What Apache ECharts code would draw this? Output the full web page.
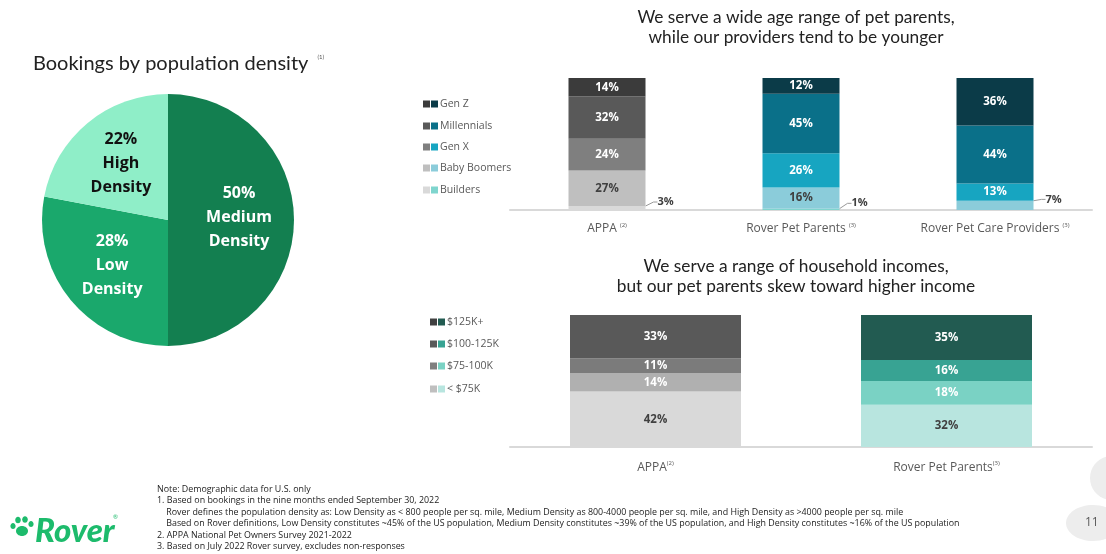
<!DOCTYPE html>
<html>
<head>
<meta charset="utf-8">
<script src="https://cdn.jsdelivr.net/npm/echarts@6/dist/echarts.min.js"></script>
<style>
html,body{margin:0;padding:0;background:#fff;}
#chart{width:1106px;height:554px;}
</style>
</head>
<body>
<div id="chart"></div>
<script>
// ---------- DATA ----------
const densityLabels = ['Medium\nDensity', 'Low\nDensity', 'High\nDensity'];
const densityValues = [50, 28, 22];

const ageCategories = ['APPA', 'Rover Pet Parents', 'Rover Pet Care Providers'];
const ageNotes = ['(2)', '(3)', '(3)'];
const ageGroups = ['Builders', 'Baby Boomers', 'Gen X', 'Millennials', 'Gen Z'];
const builders    = [3, 1, 0];
const babyBoomers = [27, 16, 7];
const genX        = [24, 26, 13];
const millennials = [32, 45, 44];
const genZ        = [14, 12, 36];

const incomeCategories = ['APPA', 'Rover Pet Parents'];
const incomeNotes = ['(2)', '(3)'];
const incomeGroups = ['< $75K', '$75-100K', '$100-125K', '$125K+'];
const under75K  = [42, 32];
const k75to100  = [14, 18];
const k100to125 = [11, 16];
const k125plus  = [33, 35];

const footnotes = [
  'Note: Demographic data for U.S. only',
  '1. Based on bookings in the nine months ended September 30, 2022',
  '    Rover defines the population density as: Low Density as < 800 people per sq. mile, Medium Density as 800-4000 people per sq. mile, and High Density as >4000 people per sq. mile',
  '    Based on Rover definitions, Low Density constitutes ~45% of the US population, Medium Density constitutes ~39% of the US population, and High Density constitutes ~16% of the US population',
  '2. APPA National Pet Owners Survey 2021-2022',
  '3. Based on July 2022 Rover survey, excludes non-responses'
];

// ---------- STYLE ----------
const densityColors = ['#137f50', '#1aa86c', '#8feec8'];
const densityText = ['#ffffff', '#ffffff', '#111111'];
const densityShift = [[5, -3], [-5, 3], [-5, -6]];

const ageGray = ['#d9d9d9', '#bfbfbf', '#7f7f7f', '#595959', '#3b3b3b'];
const ageTeal = ['#7fd5ce', '#8bccda', '#17a5c1', '#0a7089', '#0b3b48'];
const ageLegendGray = ['#d9d9d9', '#bfbfbf', '#7f7f7f', '#595959', '#3b3b3b'];
const ageLabelDark = [true, true, false, false, false];

const incGray = ['#d9d9d9', '#b0b0b0', '#7b7b7b', '#595959'];
const incTeal = ['#b8e5df', '#7ad2c4', '#38a393', '#225b51'];
const incLegendGray = ['#bfbfbf', '#7f7f7f', '#595959', '#404040'];
const incLabelDark = [true, false, false, false];

const FONT = 'Lato';
const LABEL_FONT = 'Open Sans';

const chart = echarts.init(document.getElementById('chart'), null, {renderer: 'canvas'});

function barLabel(v, dark) {
  if (!v) return {show: false};
  if (v < 10) {
    return {show: true, position: 'right', distance: 4, color: '#404040',
      fontFamily: LABEL_FONT, fontWeight: 'bold', fontSize: 11, formatter: '{c}%'};
  }
  return {show: true, position: 'inside', color: dark ? '#404040' : '#ffffff',
    fontFamily: LABEL_FONT, fontWeight: 'bold', fontSize: 11.5, formatter: '{c}%'};
}

const ageData = [builders, babyBoomers, genX, millennials, genZ];
const ageSeries = ageData.map((vals, k) => ({
  type: 'bar', name: ageGroups[k], stack: 'age', xAxisIndex: 0, yAxisIndex: 0,
  barWidth: 77, silent: true,
  data: vals.map((v, i) => ({
    value: v,
    itemStyle: {color: i === 0 ? ageGray[k] : ageTeal[k]},
    label: barLabel(v, ageLabelDark[k]),
    labelLine: {show: v > 0 && v < 10, length2: 4, lineStyle: {color: '#999', width: 1}}
  })),
  labelLayout: function (p) {
    const v = ageData[k][p.dataIndex];
    if (v > 0 && v < 10) return {dx: 8, dy: -6};
    return {};
  }
}));

const incData = [under75K, k75to100, k100to125, k125plus];
const incSeries = incData.map((vals, k) => ({
  type: 'bar', name: incomeGroups[k], stack: 'inc', xAxisIndex: 1, yAxisIndex: 1,
  barWidth: 171, silent: true,
  data: vals.map((v, i) => ({
    value: v,
    itemStyle: {color: i === 0 ? incGray[k] : incTeal[k]},
    label: barLabel(v, incLabelDark[k])
  }))
}));

// legends as graphics
const graphics = [];
function legend(names, grays, teals, x, ys) {
  names.forEach((n, i) => {
    graphics.push({type: 'rect', shape: {x: x, y: ys[i] - 3.5, width: 7, height: 7}, style: {fill: grays[i]}, silent: true});
    graphics.push({type: 'rect', shape: {x: x + 8, y: ys[i] - 3.5, width: 7, height: 7}, style: {fill: teals[i]}, silent: true});
    graphics.push({type: 'text', x: x + 17, y: ys[i], style: {text: n, fill: '#595959', font: '10.5px ' + LABEL_FONT, verticalAlign: 'middle'}, silent: true});
  });
}
legend(ageGroups.slice().reverse(), ageLegendGray.slice().reverse(), ageTeal.slice().reverse(), 423, [104, 126, 147, 168, 190]);
legend(incomeGroups.slice().reverse(), incLegendGray.slice().reverse(), incTeal.slice().reverse(), 430, [322, 344, 366, 389]);

// footnotes
footnotes.forEach((t, i) => {
  graphics.push({type: 'text', x: 157, y: 489 + i * 11.5, style: {text: t, fill: '#222', font: '8.9px ' + LABEL_FONT, verticalAlign: 'middle'}, silent: true});
});

// page decorations
graphics.push({type: 'ellipse', shape: {cx: 1112, cy: 478, rx: 22, ry: 22}, style: {fill: '#ededed'}, silent: true, z: -1});
graphics.push({type: 'ellipse', shape: {cx: 1093, cy: 523, rx: 27, ry: 18}, style: {fill: '#ededed'}, silent: true, z: -1});
graphics.push({type: 'text', x: 1085, y: 523, style: {text: '11', fill: '#595959', font: '12px ' + LABEL_FONT, verticalAlign: 'middle'}, silent: true});

// Rover logo
const green = '#1dbb6c';
[[13, 526, 2.6], [18, 520, 2.8], [25, 519.5, 2.8], [31, 524, 2.6]].forEach(c => {
  graphics.push({type: 'ellipse', shape: {cx: c[0], cy: c[1], rx: c[2], ry: c[2] * 1.2}, style: {fill: green}, silent: true});
});
graphics.push({type: 'ellipse', shape: {cx: 22, cy: 531, rx: 6, ry: 5}, style: {fill: green}, silent: true});
graphics.push({type: 'text', x: 35, y: 531, style: {text: 'Rover', fill: green, font: 'italic 900 33px Lato', verticalAlign: 'middle'}, silent: true});
graphics.push({type: 'text', x: 113, y: 517, style: {text: '®', fill: green, font: '6px Lato', verticalAlign: 'middle'}, silent: true});

const option = {
  animation: false,
  backgroundColor: '#ffffff',
  title: [
    {text: 'Bookings by population density {sup|(1)}', left: 33, top: 54, padding: 0,
      textStyle: {fontFamily: FONT, fontSize: 20, fontWeight: 'normal', color: '#222',
        rich: {sup: {fontSize: 6, color: '#555', verticalAlign: 'top', padding: [0, 0, 12, 4]}}}},
    {text: 'We serve a wide age range of pet parents,\nwhile our providers tend to be younger', left: 796, top: 7, padding: 0, textAlign: 'center',
      textStyle: {fontFamily: FONT, fontSize: 17.3, fontWeight: 'normal', color: '#222', lineHeight: 20}},
    {text: 'We serve a range of household incomes,\nbut our pet parents skew toward higher income', left: 796, top: 256, padding: 0, textAlign: 'center',
      textStyle: {fontFamily: FONT, fontSize: 17.3, fontWeight: 'normal', color: '#222', lineHeight: 20}}
  ],
  grid: [
    {left: 510, width: 582, top: 78, height: 132},
    {left: 510, width: 582, top: 315, height: 132}
  ],
  xAxis: [
    {gridIndex: 0, type: 'category', data: ageCategories,
      axisLine: {lineStyle: {color: '#d9d9d9', width: 2}}, axisTick: {show: false},
      axisLabel: {interval: 0, margin: 12, color: '#595959', fontFamily: LABEL_FONT, fontSize: 12,
        formatter: (v, i) => v + ' {sup|' + ageNotes[i] + '}',
        rich: {sup: {fontSize: 6, color: '#595959', verticalAlign: 'top', padding: [0, 0, 8, 0]}}}},
    {gridIndex: 1, type: 'category', data: incomeCategories,
      axisLine: {lineStyle: {color: '#d9d9d9', width: 2}}, axisTick: {show: false},
      axisLabel: {interval: 0, margin: 13, color: '#595959', fontFamily: LABEL_FONT, fontSize: 12,
        formatter: (v, i) => v + '{sup|' + incomeNotes[i] + '}',
        rich: {sup: {fontSize: 6, color: '#595959', verticalAlign: 'top', padding: [0, 0, 10, 0]}}}}
  ],
  yAxis: [
    {gridIndex: 0, type: 'value', min: 0, max: 100, show: false},
    {gridIndex: 1, type: 'value', min: 0, max: 100, show: false}
  ],
  series: [
    {
      type: 'pie', center: [168, 220], radius: 126, startAngle: 90, clockwise: true,
      silent: true, labelLine: {show: false},
      labelLayout: p => ({dx: densityShift[p.dataIndex][0], dy: densityShift[p.dataIndex][1]}),
      data: densityValues.map((v, i) => ({
        value: v, name: densityLabels[i],
        itemStyle: {color: densityColors[i]},
        label: {show: true, position: 'inside', color: densityText[i],
          fontFamily: LABEL_FONT, fontWeight: 'bold', fontSize: 16, lineHeight: 24,
          formatter: p => p.value + '%\n' + p.name}
      }))
    },
    ...ageSeries,
    ...incSeries
  ],
  graphic: graphics
};
chart.setOption(option);
</script>
</body>
</html>
